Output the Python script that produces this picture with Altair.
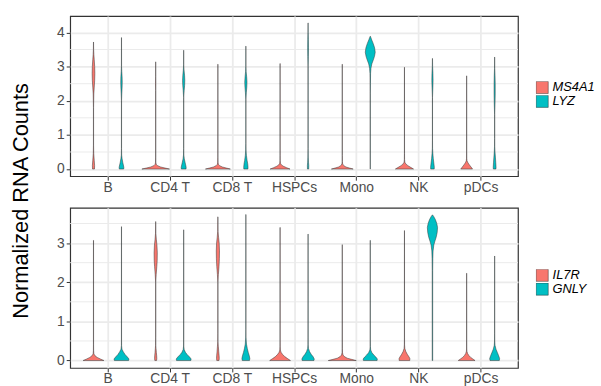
import json
import altair as alt
import pandas as pd

CELL_TYPES = ["B", "CD4 T", "CD8 T", "HSPCs", "Mono", "NK", "pDCs"]
TOP_GENES = ["MS4A1", "LYZ"]
BOTTOM_GENES = ["IL7R", "GNLY"]
GENE_COLORS = ["#F8766D", "#00BFC4"]
DODGE = [-0.225, 0.225]

# violin profiles: cell type -> (expression levels, violin half-width in category units)
MS4A1 = {
    "B": ([0, 0.1, 0.25, 0.45, 0.7, 1.8, 2.2, 2.4, 2.6, 2.8, 3.0, 3.2, 3.35, 3.5, 3.72],
          [0.016, 0.018, 0.012, 0.004, 0.0012, 0.0012, 0.005, 0.012, 0.019, 0.022, 0.019, 0.012, 0.006, 0.002, 0.0008]),
    "CD4 T": ([0, 0.03, 0.06, 0.1, 0.14, 0.2, 0.35, 2.3, 2.5, 2.7, 3.14],
              [0.222, 0.15, 0.08, 0.03, 0.008, 0.003, 0.0012, 0.0012, 0.003, 0.0012, 0.0008]),
    "CD8 T": ([0, 0.03, 0.06, 0.1, 0.14, 0.2, 0.35, 3.07],
              [0.2, 0.135, 0.072, 0.028, 0.008, 0.003, 0.0012, 0.0008]),
    "HSPCs": ([0, 0.04, 0.08, 0.12, 0.17, 0.24, 0.4, 3.09],
              [0.16, 0.105, 0.055, 0.022, 0.006, 0.002, 0.0012, 0.0008]),
    "Mono": ([0, 0.03, 0.06, 0.1, 0.15, 0.22, 0.4, 3.07],
             [0.175, 0.115, 0.06, 0.024, 0.006, 0.002, 0.0012, 0.0008]),
    "NK": ([0, 0.05, 0.1, 0.15, 0.2, 0.28, 0.45, 2.98],
           [0.146, 0.1, 0.055, 0.022, 0.006, 0.002, 0.0012, 0.0008]),
    "pDCs": ([0, 0.06, 0.12, 0.18, 0.24, 0.32, 0.5, 2.73],
             [0.095, 0.07, 0.045, 0.022, 0.006, 0.002, 0.0012, 0.0008]),
}

LYZ = {
    "B": ([0, 0.05, 0.12, 0.2, 0.3, 0.41, 0.6, 2.0, 2.2, 2.4, 2.55, 2.7, 2.85, 3.0, 3.85],
          [0.036, 0.038, 0.03, 0.02, 0.01, 0.003, 0.0012, 0.0012, 0.005, 0.01, 0.012, 0.01, 0.005, 0.0015, 0.0008]),
    "CD4 T": ([0, 0.05, 0.12, 0.2, 0.3, 0.41, 0.6, 2.1, 2.3, 2.45, 2.6, 2.75, 2.9, 3.05, 3.48],
              [0.038, 0.04, 0.032, 0.022, 0.01, 0.003, 0.0012, 0.0012, 0.008, 0.015, 0.018, 0.014, 0.006, 0.0015, 0.0008]),
    "CD8 T": ([0, 0.05, 0.15, 0.25, 0.4, 0.56, 0.75, 2.05, 2.25, 2.4, 2.55, 2.7, 2.85, 3.0, 3.6],
              [0.033, 0.035, 0.03, 0.02, 0.009, 0.003, 0.0012, 0.0012, 0.008, 0.015, 0.018, 0.013, 0.005, 0.0015, 0.0008]),
    "HSPCs": ([0, 0.1, 0.2, 0.35, 0.6, 3.0, 3.3, 3.55, 3.8, 4.0, 4.28],
              [0.01, 0.011, 0.007, 0.003, 0.0012, 0.0012, 0.005, 0.007, 0.005, 0.002, 0.0008]),
    "Mono": ([0, 2.2, 2.5, 2.8, 2.95, 3.08, 3.2, 3.3, 3.42, 3.55, 3.68, 3.78, 3.86, 3.89],
             [0.0012, 0.0012, 0.003, 0.005, 0.011, 0.025, 0.05, 0.068, 0.08, 0.07, 0.047, 0.024, 0.008, 0.001]),
    "NK": ([0, 0.05, 0.15, 0.3, 0.45, 0.61, 0.85, 2.1, 2.4, 2.6, 2.8, 3.0, 3.24],
           [0.028, 0.03, 0.024, 0.014, 0.007, 0.002, 0.0012, 0.0012, 0.007, 0.01, 0.008, 0.003, 0.0008]),
    "pDCs": ([0, 0.05, 0.2, 0.35, 0.5, 0.67, 0.9, 1.6, 1.9, 2.2, 2.5, 2.75, 2.95, 3.28],
             [0.021, 0.023, 0.018, 0.012, 0.006, 0.002, 0.0012, 0.0012, 0.006, 0.009, 0.009, 0.006, 0.002, 0.0008]),
}

IL7R = {
    "B": ([0, 0.04, 0.08, 0.12, 0.17, 0.25, 0.4, 3.07],
          [0.167, 0.11, 0.06, 0.025, 0.006, 0.002, 0.0012, 0.0008]),
    "CD4 T": ([0, 0.05, 0.12, 0.2, 0.3, 0.39, 0.6, 2.0, 2.2, 2.4, 2.55, 2.75, 2.95, 3.1, 3.25, 3.55],
              [0.014, 0.018, 0.016, 0.011, 0.006, 0.002, 0.0012, 0.0012, 0.008, 0.018, 0.024, 0.026, 0.02, 0.01, 0.003, 0.0008]),
    "CD8 T": ([0, 0.05, 0.12, 0.22, 0.35, 0.48, 0.7, 2.0, 2.2, 2.4, 2.6, 2.8, 3.0, 3.15, 3.3, 3.67],
              [0.018, 0.022, 0.02, 0.014, 0.008, 0.002, 0.0012, 0.0012, 0.008, 0.018, 0.024, 0.026, 0.021, 0.011, 0.003, 0.0008]),
    "HSPCs": ([0, 0.05, 0.1, 0.16, 0.21, 0.27, 0.35, 0.5, 3.4],
              [0.167, 0.12, 0.075, 0.038, 0.016, 0.005, 0.002, 0.0012, 0.0008]),
    "Mono": ([0, 0.03, 0.06, 0.1, 0.14, 0.2, 0.3, 0.45, 2.96],
             [0.225, 0.15, 0.08, 0.035, 0.012, 0.004, 0.0015, 0.0012, 0.0008]),
    "NK": ([0, 0.05, 0.1, 0.16, 0.23, 0.31, 0.4, 0.6, 3.32],
           [0.085, 0.087, 0.07, 0.045, 0.022, 0.006, 0.002, 0.0012, 0.0008]),
    "pDCs": ([0, 0.04, 0.08, 0.13, 0.18, 0.24, 0.32, 0.5, 2.23],
             [0.135, 0.1, 0.065, 0.035, 0.015, 0.004, 0.0015, 0.0012, 0.0008]),
}

GNLY = {
    "B": ([0, 0.04, 0.09, 0.15, 0.22, 0.29, 0.38, 0.55, 3.42],
          [0.115, 0.12, 0.095, 0.06, 0.03, 0.008, 0.002, 0.0012, 0.0008]),
    "CD4 T": ([0, 0.04, 0.09, 0.15, 0.21, 0.28, 0.37, 0.55, 3.34],
              [0.115, 0.12, 0.095, 0.058, 0.028, 0.008, 0.002, 0.0012, 0.0008]),
    "CD8 T": ([0, 0.05, 0.12, 0.2, 0.3, 0.42, 0.6, 0.8, 3.73],
              [0.058, 0.064, 0.055, 0.04, 0.024, 0.01, 0.002, 0.0012, 0.0008]),
    "HSPCs": ([0, 0.04, 0.1, 0.16, 0.23, 0.31, 0.4, 0.6, 3.23],
              [0.095, 0.1, 0.08, 0.05, 0.024, 0.007, 0.002, 0.0012, 0.0008]),
    "Mono": ([0, 0.04, 0.09, 0.14, 0.2, 0.27, 0.36, 0.55, 3.07],
             [0.11, 0.114, 0.09, 0.058, 0.027, 0.007, 0.002, 0.0012, 0.0008]),
    "NK": ([0, 2.3, 2.6, 2.8, 2.95, 3.05, 3.15, 3.27, 3.4, 3.5, 3.6, 3.68, 3.72],
           [0.004, 0.004, 0.006, 0.01, 0.022, 0.04, 0.06, 0.076, 0.082, 0.07, 0.047, 0.02, 0.002]),
    "pDCs": ([0, 0.05, 0.12, 0.2, 0.29, 0.39, 0.5, 0.7, 2.67],
             [0.075, 0.08, 0.065, 0.045, 0.022, 0.006, 0.002, 0.0012, 0.0008]),
}

TOP_Y_TICKS = [0, 1, 2, 3, 4]
TOP_Y_MINOR = [0.5, 1.5, 2.5, 3.5]
BOTTOM_Y_TICKS = [0, 1, 2, 3]
BOTTOM_Y_MINOR = [0.5, 1.5, 2.5, 3.5]

FONT = "Liberation Sans"


def build_df(genes, profiles):
    rows = []
    for gi, (gene, prof) in enumerate(zip(genes, profiles)):
        for ci, cell in enumerate(CELL_TYPES):
            levels, widths = prof[cell]
            center = ci + 1 + DODGE[gi]
            for v, w in zip(levels, widths):
                rows.append({"violin": f"{gene}-{cell}", "gene": gene, "v": v,
                             "lo": center - w, "hi": center + w})
    return pd.DataFrame(rows)


label_expr = json.dumps(CELL_TYPES) + "[round(datum.value) - 1]"


def panel(genes, profiles, ydom, yticks, yminor, legend_y):
    df = build_df(genes, profiles)
    yaxis = alt.Axis(values=yticks, title=None, format="d", gridWidth=1.8, labelPadding=2)
    xscale = alt.Scale(domain=[0.4, 7.6], nice=False, zero=False)
    yscale = alt.Scale(domain=ydom, nice=False, zero=False)
    minor = alt.Chart(pd.DataFrame({"v": yminor})).mark_rule(
        color="#EBEBEB", strokeWidth=1
    ).encode(y=alt.Y("v:Q", scale=yscale, axis=yaxis))
    violins = alt.Chart(df).mark_area(
        orient="horizontal", stroke="#333333", strokeWidth=0.5, opacity=1,
        interpolate="linear"
    ).encode(
        y=alt.Y("v:Q", scale=yscale, axis=yaxis),
        x=alt.X("lo:Q", scale=xscale, stack=None,
                axis=alt.Axis(values=list(range(1, len(CELL_TYPES) + 1)),
                              labelExpr=label_expr, title=None, gridWidth=1.8,
                              labelPadding=0)),
        x2="hi:Q",
        color=alt.Color("gene:N", scale=alt.Scale(domain=genes, range=GENE_COLORS),
                        legend=alt.Legend(orient="none", legendX=471, legendY=legend_y,
                                          title=None, symbolType="square", symbolSize=150,
                                          symbolStrokeColor="#333333", symbolStrokeWidth=0.5,
                                          symbolOpacity=1, labelFontStyle="italic",
                                          labelFontSize=13, labelColor="black",
                                          labelFont=FONT, rowPadding=0, clipHeight=12.5)),
        detail="violin:N",
    )
    return alt.layer(minor, violins).properties(width=453, height=162)


top = panel(TOP_GENES, [MS4A1, LYZ], [-0.21, 4.48], TOP_Y_TICKS, TOP_Y_MINOR, 66)
bottom = panel(BOTTOM_GENES, [IL7R, GNLY], [-0.19, 3.9], BOTTOM_Y_TICKS, BOTTOM_Y_MINOR, 62)

chart = alt.vconcat(top, bottom, spacing=12).resolve_scale(
    color="independent", y="independent"
).properties(
    title=alt.TitleParams("Normalized RNA Counts", orient="left", anchor="middle",
                          fontSize=22, font=FONT, fontWeight="normal", color="black",
                          offset=23),
    padding={"left": 10, "top": 13, "right": 5, "bottom": 0},
).configure_view(
    stroke="#333333", strokeWidth=1.2
).configure_axis(
    labelFont=FONT, labelFontSize=14, labelColor="#4D4D4D", tickColor="#333333",
    tickSize=4, tickWidth=1, domain=False, gridColor="#EBEBEB"
)

chart.save("out.html", embed_options={"renderer": "svg", "actions": False})
